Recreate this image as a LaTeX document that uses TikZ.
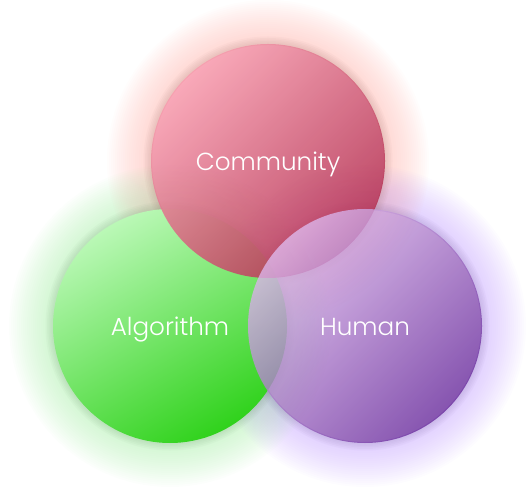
\documentclass[tikz,border=0pt]{standalone}
\usepackage{fontspec}
\setmainfont{Poppins}[UprightFont={* Light}]
\usetikzlibrary{positioning}
\usepackage{xcolor}
\definecolor{comtop}{HTML}{F89DAF}
\definecolor{combot}{HTML}{B32E50}
\definecolor{comglow}{HTML}{FFB0A8}
\definecolor{algtop}{HTML}{BAF8B6}
\definecolor{algbot}{HTML}{30D21C}
\definecolor{algglow}{HTML}{A6EEA6}
\definecolor{humtop}{HTML}{DEB8EC}
\definecolor{humbot}{HTML}{682A9C}
\definecolor{humglow}{HTML}{C3A0FF}

\begin{document}
\begin{tikzpicture}[x=0.75pt, y=0.75pt, font=\fontsize{18.5}{21}\selectfont,
    venn/.style={circle, minimum size=175.5pt, inner sep=0pt, text=white, text opacity=1,
      text height=15pt, text depth=0pt},
    glow/.style={fill=#1, fill opacity=0.032, even odd rule},
    rim/.style={fill=#1!55!black, fill opacity=0.035, even odd rule}]
    \useasboundingbox (0,0) rectangle (530,499);
    \coordinate (c-com) at (268,338);
    \coordinate (c-alg) at (170,173);
    \coordinate (c-hum) at (365,173);
    % soft halos
    \foreach \k in {2,4,...,44} {
      \fill[glow=comglow] (c-com) circle (117+\k) (c-com) circle (116);
      \fill[glow=algglow] (c-alg) circle (117+\k) (c-alg) circle (116);
      \fill[glow=humglow] (c-hum) circle (117+\k) (c-hum) circle (116);
    }
    % darker edge just outside each disc
    \foreach \k in {1.5,3,...,7.5} {
      \fill[rim=comglow] (c-com) circle (117+\k) (c-com) circle (116);
      \fill[rim=algglow] (c-alg) circle (117+\k) (c-alg) circle (116);
      \fill[rim=humglow] (c-hum) circle (117+\k) (c-hum) circle (116);
    }
    \node[venn, top color=algtop, bottom color=algbot, shading angle=30] (alg) at (c-alg) {Algorithm};
    \node[venn, top color=comtop, bottom color=combot, shading angle=45, fill opacity=0.88] (com) at (c-com) {Community};
    \node[venn, top color=humtop, bottom color=humbot, shading angle=45, fill opacity=0.8] (hum) at (c-hum) {Human};
  \end{tikzpicture}
\end{document}
